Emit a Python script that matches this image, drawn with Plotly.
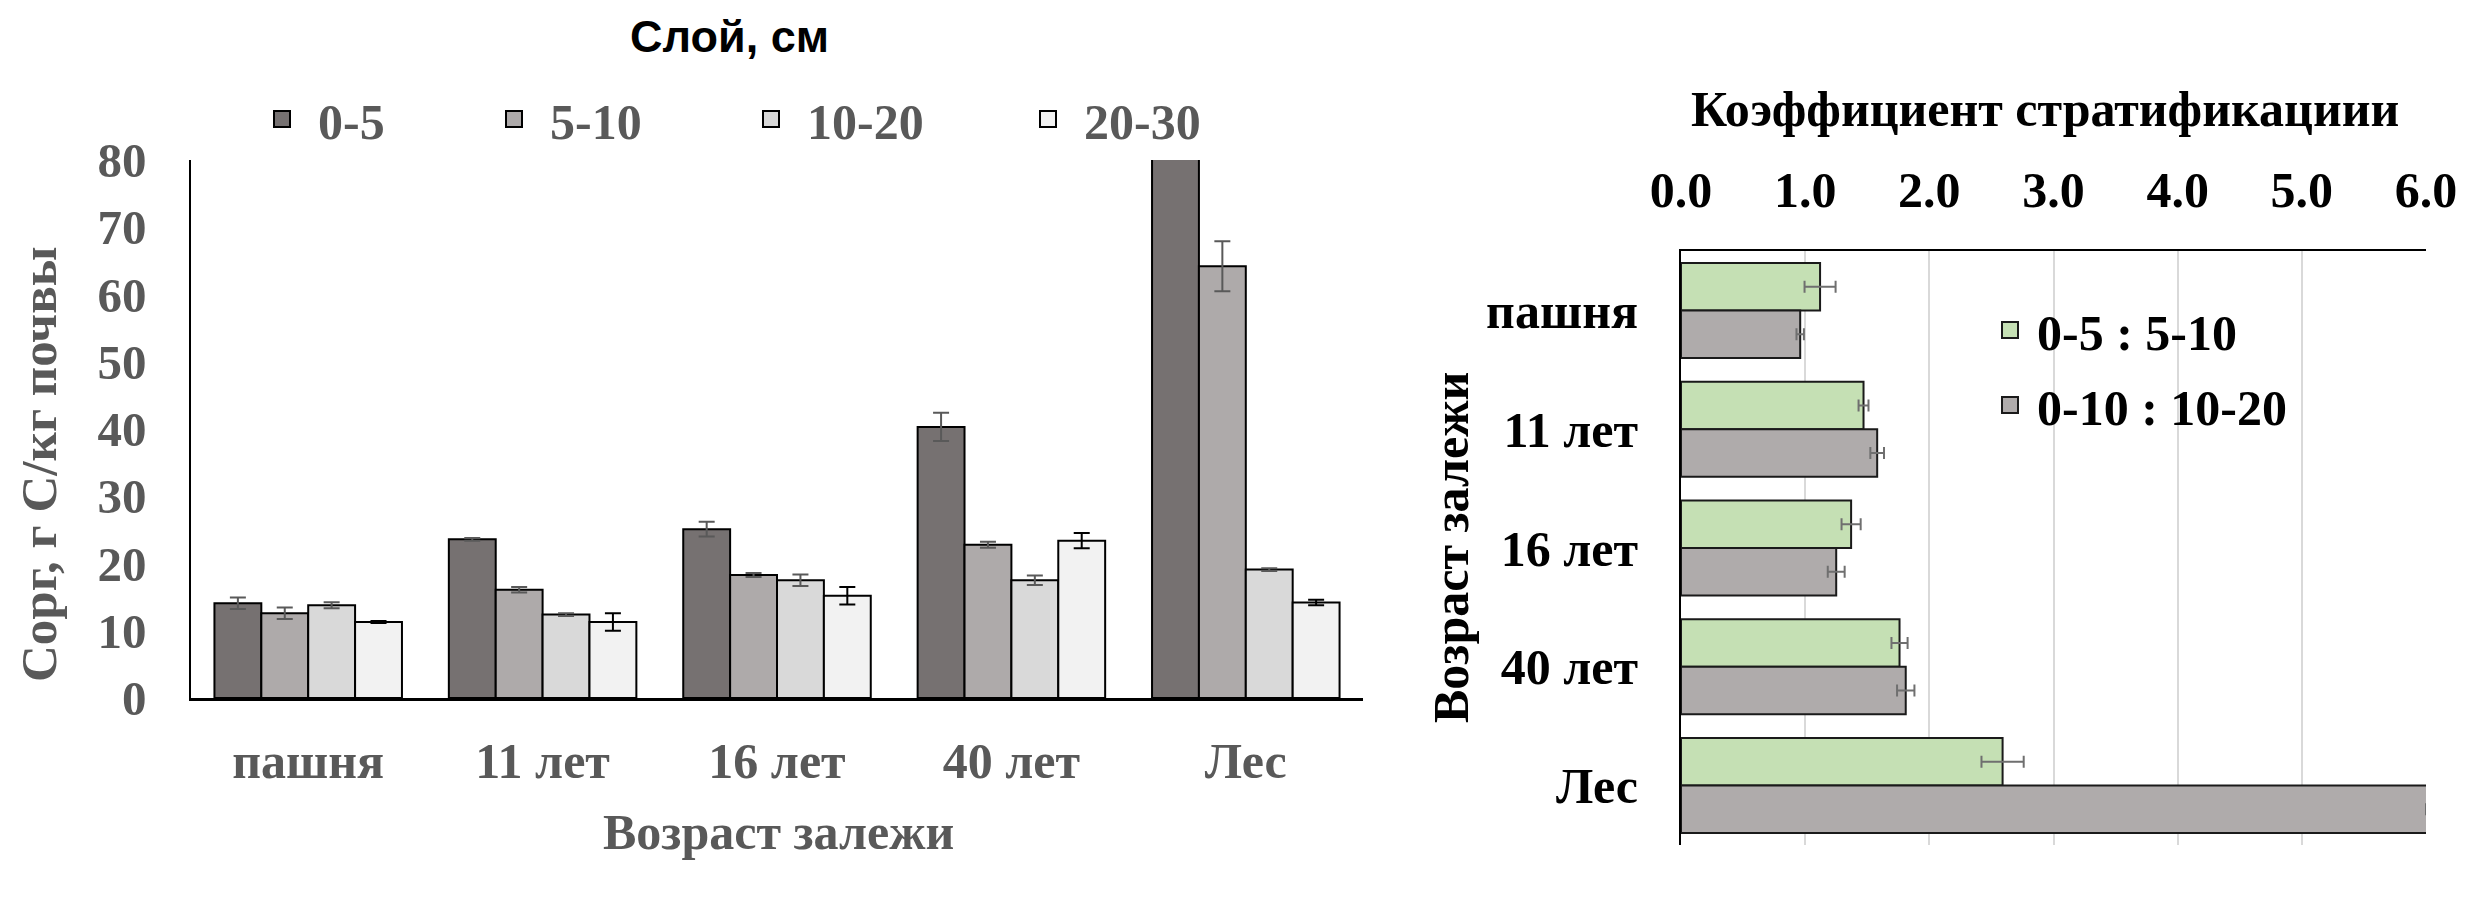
import plotly.graph_objects as go

# ---------------- data ----------------
categories = ["пашня", "11 лет", "16 лет", "40 лет", "Лес"]
layers = ["0-5", "5-10", "10-20", "20-30"]

c_0_5 = [14.1, 23.6, 25.1, 40.3, 166.0]
c_5_10 = [12.6, 16.1, 18.3, 22.8, 64.2]
c_10_20 = [13.8, 12.4, 17.5, 17.5, 19.1]
c_20_30 = [11.3, 11.3, 15.2, 23.4, 14.2]
e_0_5 = [0.85, 0.2, 1.1, 2.1, 0.0]
e_5_10 = [0.85, 0.4, 0.3, 0.45, 3.7]
e_10_20 = [0.45, 0.2, 0.85, 0.7, 0.2]
e_20_30 = [0.15, 1.3, 1.3, 1.15, 0.4]

ratio_names = ["0-5 : 5-10", "0-10 : 10-20"]
r_05_510 = [1.12, 1.47, 1.37, 1.76, 2.59]
r_010_1020 = [0.96, 1.58, 1.25, 1.81, 6.03]
re_05_510 = [0.125, 0.04, 0.077, 0.065, 0.17]
re_010_1020 = [0.03, 0.055, 0.068, 0.07, 0.03]

# ---------------- styles ----------------
W, H = 2486, 898
OFF = 8  # page body margin
SERIF = "Liberation Serif"
SANS = "Liberation Sans"
GRAY_TXT = "#595959"
layer_colors = ["#767171", "#aeaaaa", "#d9d9d9", "#f2f2f2"]
layer_err_colors = ["#595959", "#595959", "#595959", "#000000"]
ratio_colors = ["#c5e0b4", "#afabab"]

def px_x(v):
    return (v - OFF) / W

def px_y(v):
    return 1 - (v - OFF) / H

fig = go.Figure()

left_vals = [c_0_5, c_5_10, c_10_20, c_20_30]
left_errs = [e_0_5, e_5_10, e_10_20, e_20_30]
legend_marker_px = [284, 516, 773, 1050]
for i, name in enumerate(layers):
    fig.add_trace(go.Bar(
        x=categories, y=left_vals[i], name=name,
        marker=dict(color=layer_colors[i], line=dict(color="#000000", width=2)),
        error_y=dict(type="data", array=left_errs[i], color=layer_err_colors[i],
                     thickness=2, width=8),
        xaxis="x", yaxis="y", showlegend=False,
    ))
    lg = "legend" if i == 0 else f"legend{i+1}"
    fig.add_trace(go.Scatter(
        x=[None], y=[None], mode="markers", name=name,
        marker=dict(symbol="square", size=24, color=layer_colors[i],
                    line=dict(color="#000000", width=2)),
        xaxis="x", yaxis="y", legend=lg, showlegend=True,
    ))

right_vals = [r_05_510, r_010_1020]
right_errs = [re_05_510, re_010_1020]
for j, name in enumerate(ratio_names):
    fig.add_trace(go.Bar(
        y=categories, x=right_vals[j], name=name, orientation="h",
        marker=dict(color=ratio_colors[j], line=dict(color="#1a1a1a", width=2)),
        error_x=dict(type="data", array=right_errs[j], color="#6f6f6f",
                     thickness=2, width=6),
        xaxis="x2", yaxis="y2", showlegend=False,
    ))
    fig.add_trace(go.Scatter(
        x=[None], y=[None], mode="markers", name=name,
        marker=dict(symbol="square", size=24, color=ratio_colors[j],
                    line=dict(color="#1a1a1a", width=2)),
        xaxis="x2", yaxis="y2", legend=f"legend{5+j}", showlegend=True,
    ))

leg_common = dict(orientation="h", bgcolor="rgba(0,0,0,0)", borderwidth=0,
                  xanchor="left", yanchor="middle")
layout_legends = {}
for i in range(4):
    key = "legend" if i == 0 else f"legend{i+1}"
    layout_legends[key] = dict(
        leg_common, x=px_x(legend_marker_px[i] - 38), y=px_y(119), itemwidth=62,
        font=dict(family=SERIF, size=50, color=GRAY_TXT, weight="bold"))
for j, ypx in enumerate([330, 405]):
    layout_legends[f"legend{5+j}"] = dict(
        leg_common, x=px_x(2014 - 31), y=px_y(ypx), itemwidth=44,
        font=dict(family=SERIF, size=50, color="#000000", weight="bold"))

fig.update_layout(
    width=W, height=H,
    margin=dict(l=0, r=0, t=0, b=0, autoexpand=False),
    paper_bgcolor="white", plot_bgcolor="white",
    barmode="group", bargap=0.2, bargroupgap=0,
    xaxis=dict(domain=[px_x(191), px_x(1363)], anchor="y", type="category",
               showline=True, linecolor="#000000", linewidth=3, ticks="",
               showgrid=False, automargin=False,
               tickfont=dict(family=SERIF, size=50, color=GRAY_TXT, weight="bold"),
               ticklabelstandoff=17),
    yaxis=dict(domain=[px_y(698), px_y(160)], anchor="x", range=[0, 80], dtick=10,
               showline=True, linecolor="#000000", linewidth=1.5, ticks="",
               showgrid=False, zeroline=False, automargin=False,
               tickfont=dict(family=SERIF, size=49, color=GRAY_TXT, weight="bold"),
               ticklabelstandoff=33),
    xaxis2=dict(domain=[px_x(1681), px_x(2426)], anchor="y2", side="top",
                range=[0, 6], dtick=1, tickformat=".1f",
                showgrid=True, gridcolor="#d9d9d9", gridwidth=1.5,
                showline=True, linecolor="#000000", linewidth=2, zeroline=False,
                ticks="", automargin=False,
                tickfont=dict(family=SERIF, size=50, color="#000000", weight="bold"),
                ticklabelstandoff=22),
    yaxis2=dict(domain=[px_y(845), px_y(251)], anchor="x2", type="category",
                autorange="reversed", showline=True, linecolor="#000000",
                linewidth=2, ticks="", showgrid=False, automargin=False,
                tickfont=dict(family=SERIF, size=50, color="#000000", weight="bold"),
                ticklabelstandoff=31),
    **layout_legends,
    annotations=[
        dict(text="Слой, см", x=px_x(729), y=px_y(36), xref="paper", yref="paper",
             showarrow=False, xanchor="center", yanchor="middle", borderpad=0,
             font=dict(family=SANS, size=45, color="#000000", weight="bold")),
        dict(text="Возраст залежи", x=px_x(778), y=px_y(832), xref="paper",
             yref="paper", showarrow=False, xanchor="center", yanchor="middle",
             font=dict(family=SERIF, size=50, color=GRAY_TXT, weight="bold")),
        dict(text="Сорг, г С/кг почвы", x=px_x(39), y=px_y(464), xref="paper",
             yref="paper", showarrow=False, textangle=-90,
             xanchor="center", yanchor="middle",
             font=dict(family=SERIF, size=51, color=GRAY_TXT, weight="bold")),
        dict(text="Коэффициент стратификациии", x=px_x(2045), y=px_y(109),
             xref="paper", yref="paper", showarrow=False,
             xanchor="center", yanchor="middle",
             font=dict(family=SERIF, size=50, color="#000000", weight="bold")),
        dict(text="Возраст залежи", x=px_x(1451), y=px_y(548), xref="paper",
             yref="paper", showarrow=False, textangle=-90,
             xanchor="center", yanchor="middle",
             font=dict(family=SERIF, size=50, color="#000000", weight="bold")),
    ],
)

fig.write_html("out.html")
